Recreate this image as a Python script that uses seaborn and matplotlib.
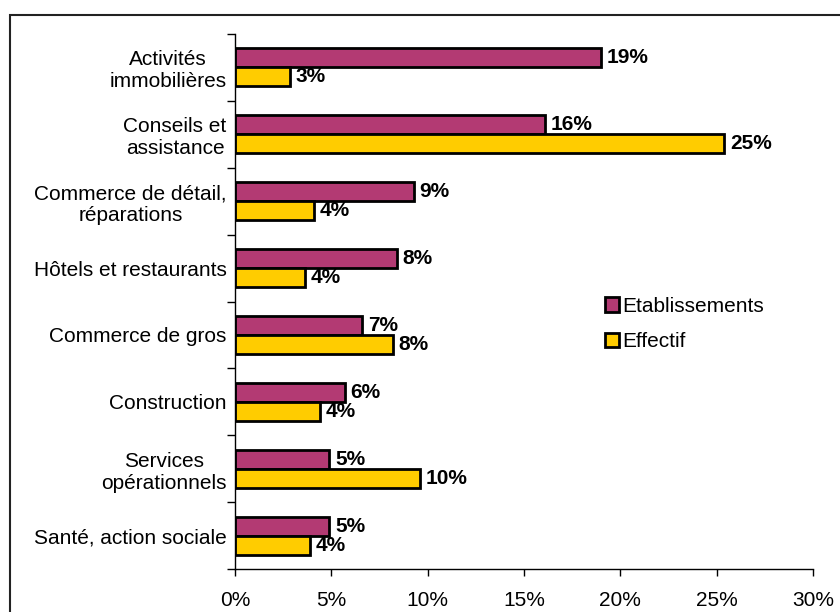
import pandas as pd
import matplotlib.pyplot as plt
import seaborn as sns
from matplotlib.patches import Rectangle
from matplotlib.ticker import MultipleLocator, FixedLocator

# Données (en %)
secteurs = [
    "Activités\nimmobilières",
    "Conseils et\nassistance",
    "Commerce de détail,\nréparations",
    "Hôtels et restaurants",
    "Commerce de gros",
    "Construction",
    "Services\nopérationnels",
    "Santé, action sociale",
]
etablissements = [19.0, 16.1, 9.3, 8.4, 6.6, 5.7, 4.9, 4.9]
effectif = [2.85, 25.4, 4.1, 3.65, 8.2, 4.4, 9.6, 3.9]
series = ["Etablissements", "Effectif"]
couleurs = ["#B33A73", "#FFCC00"]

df = pd.DataFrame({
    "secteur": secteurs * 2,
    "valeur": etablissements + effectif,
    "serie": [series[0]] * len(secteurs) + [series[1]] * len(secteurs),
})

sns.set_style("white")
plt.rcParams["font.family"] = ["Liberation Sans", "DejaVu Sans"]
plt.rcParams["font.size"] = 15
plt.rcParams["text.color"] = "black"
plt.rcParams["xtick.color"] = "black"
plt.rcParams["ytick.color"] = "black"

fig = plt.figure(figsize=(8.4, 6.12), dpi=100)
ax = fig.add_axes([235 / 840, 1 - 569 / 612, (813 - 235) / 840, (569 - 34) / 612])

sns.barplot(data=df, x="valeur", y="secteur", hue="serie", orient="h",
            order=secteurs, hue_order=series, palette=couleurs, saturation=1,
            width=0.57, edgecolor="black", linewidth=2, ax=ax)

# étiquettes de valeurs
for cont, vals in zip(ax.containers, [etablissements, effectif]):
    ax.bar_label(cont, labels=[f"{v:.0f}%" for v in vals], padding=4,
                 fontweight="bold", fontsize=15, color="black")

ax.set_xlim(0, 30)
ax.set_ylim(len(secteurs) - 0.5, -0.5)
ax.xaxis.set_major_locator(MultipleLocator(5))
ax.set_xticklabels([f"{t:.0f}%" for t in ax.get_xticks()])
ax.tick_params(axis="x", bottom=True, direction="out", length=5, width=1,
               pad=11, labelsize=15, labelcolor="black")
ax.yaxis.set_minor_locator(FixedLocator([i - 0.5 for i in range(len(secteurs) + 1)]))
ax.tick_params(axis="y", which="major", left=True, length=0, pad=6,
               labelsize=15, labelcolor="black")
ax.tick_params(axis="y", which="minor", left=True, direction="out", length=6, width=1)
for lab in ax.get_yticklabels():
    lab.set_multialignment("center")
ax.set_xlabel("")
ax.set_ylabel("")

for s in ["top", "right"]:
    ax.spines[s].set_visible(False)
for s in ["left", "bottom"]:
    ax.spines[s].set_color("black")
    ax.spines[s].set_linewidth(1)

leg = ax.legend(loc="center left", bbox_to_anchor=(586 / 840, 1 - 324 / 612),
                bbox_transform=fig.transFigure, frameon=False, fontsize=15,
                handlelength=0.7, handleheight=0.7, handletextpad=0.15,
                labelspacing=0.8)
for h in leg.legend_handles:
    h.set_edgecolor("black")
    h.set_linewidth(2)

# cadre extérieur
fig.patches.append(Rectangle((10 / 840, -0.1), 1.2, 1 - 15 / 612 + 0.1,
                             transform=fig.transFigure, fill=False,
                             edgecolor="#222222", linewidth=1.5))

fig.savefig("out.png", dpi=100)
